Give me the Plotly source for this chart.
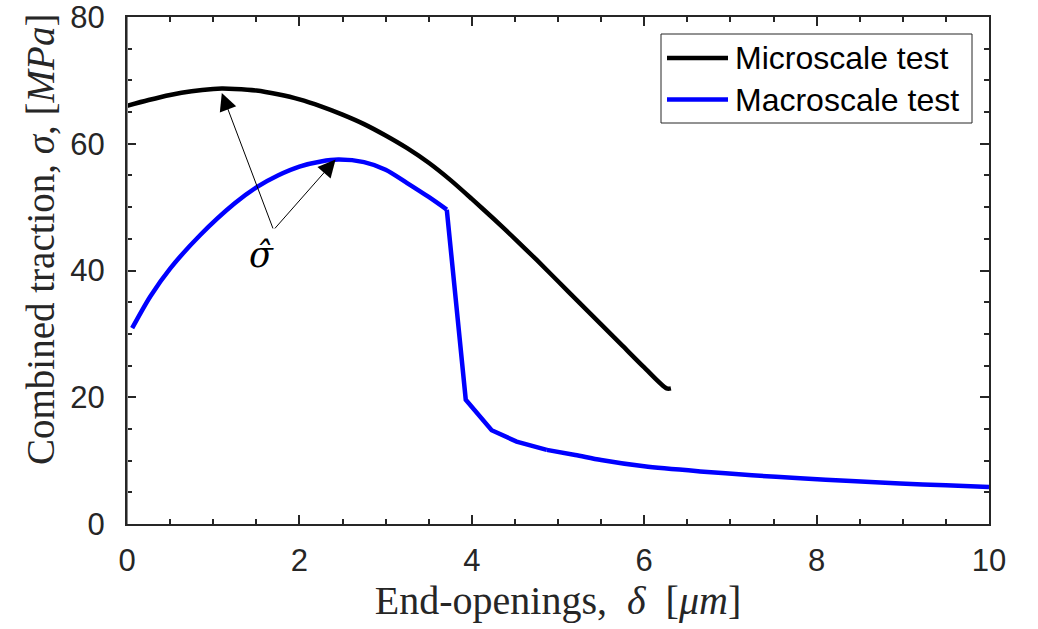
import plotly.graph_objects as go

# Microscale test (black)
micro_x = [0.0, 0.25, 0.5, 0.75, 1.0, 1.1, 1.25, 1.5, 1.75, 2.0, 2.25, 2.5, 2.75, 3.0,
           3.25, 3.5, 3.75, 4.0, 4.25, 4.5, 4.75, 5.0, 5.25, 5.5, 5.75, 6.0, 6.26, 6.31]
micro_y = [66.0, 66.9, 67.7, 68.3, 68.65, 68.7, 68.65, 68.4, 67.8, 67.0, 65.9, 64.6, 63.1, 61.3,
           59.3, 57.0, 54.3, 51.3, 48.2, 45.0, 41.7, 38.3, 34.9, 31.5, 28.1, 24.7, 21.4, 21.4]

# Macroscale test (blue)
macro_x = [0.06, 0.27, 0.5, 0.85, 1.25, 1.51, 1.75, 2.0, 2.25, 2.45, 2.75, 3.0, 3.25,
           3.5, 3.71, 3.93, 4.23, 4.52, 4.87, 5.2, 5.5, 6.0, 6.65, 7.25, 7.81, 8.4, 8.97, 9.5, 10.0]
macro_y = [30.9, 35.9, 40.3, 45.6, 50.6, 53.2, 55.0, 56.4, 57.2, 57.5, 57.1, 55.9, 53.8,
           51.6, 49.6, 19.6, 14.8, 13.0, 11.7, 10.9, 10.1, 9.1, 8.3, 7.7, 7.2, 6.8, 6.4, 6.1, 5.85]

series_names = ["Microscale test", "Macroscale test"]
series_colors = ["black", "#0000ff"]
x_ticks = [0, 2, 4, 6, 8, 10]
y_ticks = [0, 20, 40, 60, 80]

# annotation anchor points (data coords)
arrow_tail = (1.70, 46.4)
arrow_heads = [(1.10, 68.0), (2.42, 57.5)]
label_pos = (1.56, 42.4)

AX = "#262626"
LW = 4.5
# plot-area geometry in pixels (for legend / title placement)
L, R, T, B = 127, 989, 17, 524


def px2paper(px, py):
    return (px - L) / (R - L), (B - py) / (B - T)


fig = go.Figure()
fig.add_trace(go.Scatter(x=micro_x, y=micro_y, mode="lines", name=series_names[0],
                         line=dict(color=series_colors[0], width=LW, shape="spline", smoothing=0.8)))
# blue: smooth rise, piecewise drop, smooth tail
k1, k2 = 14, 18
fig.add_trace(go.Scatter(x=macro_x[:k1 + 1], y=macro_y[:k1 + 1], mode="lines", name=series_names[1],
                         line=dict(color=series_colors[1], width=LW, shape="spline", smoothing=0.8)))
fig.add_trace(go.Scatter(x=macro_x[k1:k2 + 1], y=macro_y[k1:k2 + 1], mode="lines", name=series_names[1],
                         line=dict(color=series_colors[1], width=LW)))
fig.add_trace(go.Scatter(x=macro_x[k2:], y=macro_y[k2:], mode="lines", name=series_names[1],
                         line=dict(color=series_colors[1], width=LW, shape="spline", smoothing=0.8)))

for hx, hy in arrow_heads:
    fig.add_annotation(x=hx, y=hy, ax=arrow_tail[0], ay=arrow_tail[1], xref="x", yref="y",
                       axref="x", ayref="y", text="", showarrow=True, arrowhead=2,
                       arrowsize=3.5, arrowwidth=1, arrowcolor="black", standoff=0, startstandoff=0)

fig.add_annotation(x=label_pos[0], y=label_pos[1], xref="x", yref="y", text="<i>σ\u0302</i>",
                   showarrow=False, font=dict(family="DejaVu Serif", size=35, color="black"))

# left spine appears grey in the reference
fig.add_shape(type="line", xref="x", yref="paper", x0=0, x1=0, y0=0, y1=1,
              line=dict(color="#8a8a8a", width=2), layer="above")

# legend box drawn by hand to match the reference's long line samples
bx0, by0 = px2paper(661, 123)
bx1, by1 = px2paper(972, 34)
fig.add_shape(type="rect", xref="paper", yref="paper", x0=bx0, y0=by0, x1=bx1, y1=by1,
              line=dict(color=AX, width=1), fillcolor="white", layer="above")
for i, (name, col) in enumerate(zip(series_names, series_colors)):
    rowy = 58 + 41.5 * i
    lx0, ly = px2paper(667, rowy)
    lx1, _ = px2paper(728, rowy)
    tx, _ = px2paper(733, rowy)
    fig.add_shape(type="line", xref="paper", yref="paper", x0=lx0, x1=lx1, y0=ly, y1=ly,
                  line=dict(color=col, width=LW), layer="above")
    fig.add_annotation(x=tx, y=ly, xref="paper", yref="paper", xanchor="left", yanchor="middle",
                       text=name, showarrow=False,
                       font=dict(family="Liberation Sans, Arial", size=32, color="black"))

tick_font = dict(family="Liberation Sans, Arial", size=31, color=AX)
title_font = dict(family="Liberation Serif", size=40, color=AX)

# y-axis title as a rotated annotation (positioned like the reference)
ytx, yty = px2paper(40, 240)
fig.add_annotation(x=ytx, y=yty, xref="paper", yref="paper", textangle=-90,
                   xanchor="center", yanchor="middle",
                   text="Combined traction, <i>σ</i>, [<i>MPa</i>]", showarrow=False,
                   font=dict(family="Liberation Serif", size=39, color=AX))

fig.update_xaxes(range=[0, 10], tickvals=x_ticks, ticktext=[str(v) for v in x_ticks],
                 ticks="inside", ticklen=9, tickwidth=2, tickcolor=AX,
                 minor=dict(dtick=0.5, ticks="inside", ticklen=5, tickwidth=2, tickcolor=AX),
                 showline=True, linecolor=AX, linewidth=2, mirror="ticks",
                 showgrid=False, zeroline=False, tickfont=tick_font, ticklabelstandoff=8,
                 ticklabeloverflow="allow",
                 title=dict(text="End-openings,&nbsp; <i>δ</i>&nbsp; [<i>μm</i>]", font=title_font, standoff=6))
fig.update_yaxes(range=[0, 80], tickvals=y_ticks, ticktext=[str(v) for v in y_ticks],
                 ticks="inside", ticklen=9, tickwidth=2, tickcolor=AX,
                 minor=dict(dtick=5, ticks="inside", ticklen=5, tickwidth=2, tickcolor=AX),
                 showline=True, linecolor=AX, linewidth=2, mirror="ticks",
                 showgrid=False, zeroline=False, tickfont=tick_font, ticklabelstandoff=14,
                 ticklabeloverflow="allow")

fig.update_layout(
    width=1038, height=629,
    margin=dict(l=L, r=1038 - R, t=T, b=629 - B, autoexpand=False),
    paper_bgcolor="white", plot_bgcolor="white",
    showlegend=False,
)

fig.write_html("out.html")
